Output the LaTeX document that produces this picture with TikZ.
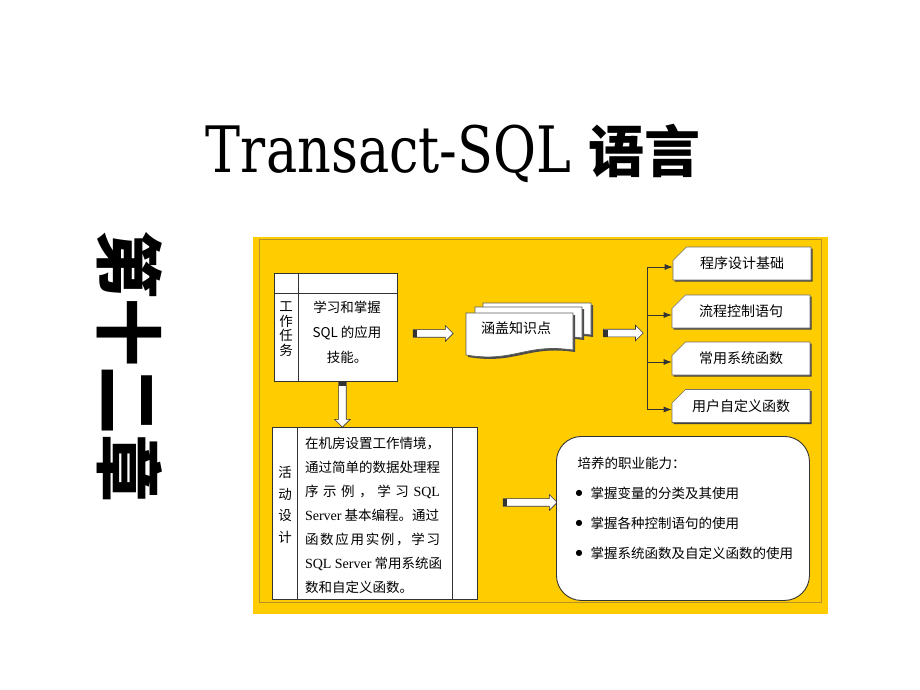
\documentclass[tikz,border=0pt]{standalone}
\usepackage{fontspec}
\setmainfont{Liberation Serif}
\newfontfamily\cjk{Noto Sans CJK SC}
\newfontfamily\titlefont[FakeStretch=0.82]{DejaVu Serif}
\newfontfamily\symfont{DejaVu Sans}
\usetikzlibrary{shapes.arrows,shapes.misc,shadows,calc,arrows.meta}
\definecolor{panel}{HTML}{FFCC00}
\definecolor{panelline}{HTML}{B8902A}
\definecolor{boxline}{HTML}{333333}
\newcommand\docpage[4]{%
  \draw[draw=boxline!80, fill=white, line width=0.7pt,
        drop shadow={shadow xshift=2pt, shadow yshift=-2pt, fill=black!70, opacity=1}]
    (#1,#2) -- (#1+#3,#2) -- (#1+#3,#2+#4-5)
    .. controls (#1+0.55*#3,#2+#4-12) and (#1+0.45*#3,#2+#4+8) .. (#1,#2+#4) -- cycle;}
\begin{document}
\begin{tikzpicture}[x=1pt,y=-1pt,
  box/.style={draw=boxline, fill=white, line width=0.9pt},
  blockarrow/.style={single arrow, draw=boxline, fill=white, line width=0.6pt,
    inner sep=3.5pt, minimum width=15pt, single arrow head extend=4pt,
    single arrow head indent=0pt, anchor=tail},
  card/.style={chamfered rectangle, chamfered rectangle corners=north west,
    chamfered rectangle xsep=13pt, chamfered rectangle ysep=7pt,
    draw=boxline!70, fill=white, line width=0.6pt,
    minimum width=138pt, minimum height=33pt, inner sep=0pt,
    font=\cjk\fontsize{14}{16}\selectfont,
    drop shadow={shadow xshift=1.6pt, shadow yshift=-1.6pt, fill=black!75, opacity=1}},
  zh/.style={font=\cjk\fontsize{13.5}{16}\selectfont},
  link/.style={draw=boxline, line width=0.8pt},
  tailmark/.style={fill=boxline}
]
\useasboundingbox (0,0) rectangle (920,690);
\fill[white] (0,0) rectangle (920,690);

% title
\node[anchor=base] (title) at (453,172)
  {\titlefont\fontsize{64}{64}\selectfont Transact-SQL {\cjk\bfseries\fontsize{56}{56}\selectfont 语言}};
\node[rotate=-90, font=\cjk\bfseries\fontsize{68}{68}\selectfont] (chap) at (130,366) {第十二章};

% panel
\fill[panel] (253,237) rectangle (828,614);
\draw[panelline, line width=0.8pt] (259,239.5) rectangle (821,602);

% box A
\node[box, minimum width=123pt, minimum height=108pt, anchor=north west, inner sep=0pt] (A) at (274,273) {};
\draw[link] ($(A.north west)+(24,0)$) -- ($(A.south west)+(24,0)$);
\draw[link] ($(A.north west)+(0,20)$) -- ($(A.north east)+(0,20)$);
\node[zh, align=center, font=\cjk\fontsize{13.5}{14.5}\selectfont] (At) at (286,329) {工\\作\\任\\务};
\node[align=center, font=\cjk\fontsize{13.5}{25}\selectfont] (Ab) at (347,332) {学习和掌握\\SQL 的应用\\技能。};

% arrow A -> K
\node[blockarrow, minimum height=40pt] (a1) at ($(A.east)+(15,6)$) {};
\fill[tailmark] ($(a1.tail)+(0,-3.5)$) rectangle ++(4.5,7);

% multi document
\docpage{483}{303}{108}{37}
\docpage{475}{307}{107}{36}
\docpage{466}{313}{107}{42}
\node[zh, font=\cjk\fontsize{14}{16}\selectfont] (K) at (516,328) {涵盖知识点};

% arrow K -> J
\node[blockarrow, minimum height=40pt] (a2) at ($(K)+(87,5)$) {};
\fill[tailmark] ($(a2.tail)+(0,-3.5)$) rectangle ++(4.5,7);
\coordinate (J) at (647,333);

% cards
\node[card] (C1) at (742,263.5) {程序设计基础};
\node[card] (C2) at (741,311.5) {流程控制语句};
\node[card] (C3) at (741,358.5) {常用系统函数};
\node[card] (C4) at (741,406) {用户自定义函数};
\draw[link] ($(J |- C1.west)+(0,3.5)$) -- ($(J |- C4.west)+(0,3.5)$);
\foreach \c in {C1,C2,C3,C4}
  \draw[link, -{Latex[length=8pt,width=6pt]}] ($(J |- \c.west)+(0,3.5)$) -- ($(\c.west)+(0,3.5)$);

% arrow A -> B
\node[blockarrow, shape border rotate=270, minimum height=45pt] (a3) at ($(A.south)+(6.5,0)$) {};
\fill[tailmark] ($(a3.tail)+(-3.5,0)$) rectangle ++(7,4.5);

% box B
\node[box, minimum width=205pt, minimum height=172pt, anchor=north west, inner sep=0pt] (B) at (272,427) {};
\draw[link] ($(B.north west)+(25,0)$) -- ($(B.south west)+(25,0)$);
\draw[link] ($(B.north west)+(180,0)$) -- ($(B.south west)+(180,0)$);
\node[align=center, font=\cjk\fontsize{13.5}{21.5}\selectfont] (Bt) at (285,505) {活\\动\\设\\计};
\node[align=left, font=\cjk\fontsize{13.5}{24}\selectfont] (Bb) at (372.5,515) {%
\makebox[135pt][l]{在机房设置工作情境，}\\
\makebox[135pt][l]{通过简单的数据处理程}\\
\makebox[135pt][l]{序\hfill 示\hfill 例\hfill ，\hfill 学\hfill 习\hfill {\rmfamily\fontsize{14}{24}\selectfont SQL}}\\
\makebox[135pt][l]{{\rmfamily\fontsize{14}{24}\selectfont Server} 基本编程。通过}\\
\makebox[135pt][l]{函\hfill 数\hfill 应\hfill 用\hfill 实\hfill 例\hfill ，\hfill 学\hfill 习}\\
\makebox[135pt][l]{{\rmfamily\fontsize{14}{24}\selectfont SQL Server} 常用系统函}\\
\makebox[135pt][l]{数和自定义函数。}};

% arrow B -> R
\node[blockarrow, minimum height=54pt] (a4) at ($(B.east)+(25,-11)$) {};
\fill[tailmark] ($(a4.tail)+(0,-3.5)$) rectangle ++(4.5,7);

% box R
\node[box, rounded corners=25pt, minimum width=253pt, minimum height=164pt, anchor=north west, inner sep=0pt] (R) at (556,436) {};
\node[zh, anchor=west] (R0) at (574,463) {培养的职业能力：};
\foreach \yy/\tt [count=\i] in {493/掌握变量的分类及其使用, 523/掌握各种控制语句的使用, 553/掌握系统函数及自定义函数的使用}{
  \node[font=\symfont\fontsize{8}{8}\selectfont] (b\i) at (579,\yy) {●};
  \node[zh, anchor=west] (r\i) at (587,\yy) {\tt};
}
\end{tikzpicture}
\end{document}
